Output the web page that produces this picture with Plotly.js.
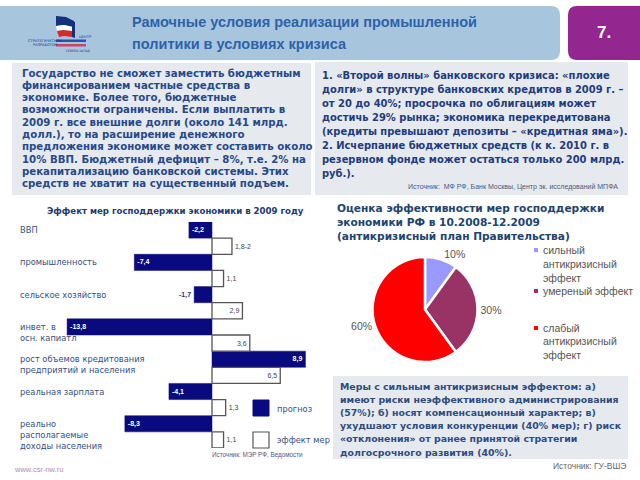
<!DOCTYPE html>
<html><head><meta charset="utf-8">
<script src="https://cdn.plot.ly/plotly-3.0.1.min.js"></script>
<style>html,body{margin:0;padding:0;background:#fff}#c{width:640px;height:480px}</style>
</head><body><div id="c"></div><script>
// ---------- data ----------
const categories = [["ВВП"],["промышленность"],["сельское хозяйство"],["инвет. в","осн. капиатл"],["рост объемов кредитования","предприятий и населения"],["реальная зарплата"],["реально","располагаемые","доходы населения"]];
const forecastValues = [-2.2,-7.4,-1.7,-13.8,8.9,-4.1,-8.3];
const forecastLabels = ["-2,2","-7,4","-1,7","-13,8","8,9","-4,1","-8,3"];
const effectValues = [1.9,1.1,2.9,3.6,6.5,1.3,1.1];
const effectLabels = ["1,8-2","1,1","2,9","3,6","6,5","1,3","1,1"];
const seriesNames = ["прогноз","эффект мер"];
const pieLabels = [["сильный","антикризисный","эффект"],["умереный эффект"],["слабый","антикризисный","эффект"]];
const pieValues = [10,30,60];

const titleLines = ["Рамочные условия реализации промышленной","политики в условиях кризиса"];
const leftText = ["Государство не сможет заместить бюджетным","финансированием частные средства в","экономике. Более того, бюджетные","возможности ограничены. Если выплатить в","2009 г. все внешние долги (около 141 млрд.","долл.), то на расширение денежного","предложения экономике может составить около","10% ВВП. Бюджетный дефицит – 8%, т.е. 2% на","рекапитализацию банковской системы. Этих","средств не хватит на существенный подъем."];
const rightText = ["1. «Второй волны» банковского кризиса: «плохие","долги» в структуре банковских кредитов в 2009 г. –","от 20 до 40%; просрочка по облигациям может","достичь 29% рынка; экономика перекредитована","(кредиты превышают депозиты – «кредитная яма»).","2. Исчерпание бюджетных средств (к к. 2010 г. в","резервном фонде может остаться только 200 млрд.","руб.)."];
const bottomText = ["Меры с сильным антикризисным эффектом: а)","имеют риски неэффективного администрирования","(57%); б) носят компенсационный характер; в)","ухудшают условия конкуренции (40% мер); г) риск","«отклонения» от ранее принятой стратегии","долгосрочного развития (40%)."];
const pieTitle = ["Оценка эффективности мер господдержки","экономики РФ в 10.2008-12.2009","(антикризисный план Правительства)"];

// ---------- styles ----------
const NAVY = "#0a0a80";
const pieColors = ["#9999ff","#993366","#ff0000"];
const W=640,H=480;
const px=x=>x/W, py=y=>1-y/H;
const shapes=[], ann=[];
function rect(x0,y0,x1,y1,fill,line,lw){shapes.push({type:'rect',xref:'paper',yref:'paper',x0:px(x0),x1:px(x1),y0:py(y1),y1:py(y0),fillcolor:fill,line:{color:line||fill,width:lw||0},layer:'below'});}
function rrect(x0,y0,x1,y1,r,fill){
  const P=(x,y)=>px(x).toFixed(5)+','+py(y).toFixed(5);
  const d='M'+P(x0+r,y0)+' L'+P(x1-r,y0)+' Q'+P(x1,y0)+' '+P(x1,y0+r)+' L'+P(x1,y1-r)+' Q'+P(x1,y1)+' '+P(x1-r,y1)+' L'+P(x0+r,y1)+' Q'+P(x0,y1)+' '+P(x0,y1-r)+' L'+P(x0,y0+r)+' Q'+P(x0,y0)+' '+P(x0+r,y0)+' Z';
  shapes.push({type:'path',xref:'paper',yref:'paper',path:d,fillcolor:fill,line:{width:0},layer:'below'});
}
function poly(pts,fill){
  const d='M'+pts.map(p=>px(p[0]).toFixed(5)+','+py(p[1]).toFixed(5)).join(' L')+' Z';
  shapes.push({type:'path',xref:'paper',yref:'paper',path:d,fillcolor:fill,line:{width:0},layer:'above'});
}
function txt(x,y,s,size,color,o){o=o||{};ann.push({xref:'paper',yref:'paper',x:px(x),y:py(y),text:s,showarrow:false,xanchor:o.xa||'left',yanchor:'middle',font:{family:o.fam||'DejaVu Sans',size:size,color:color,weight:o.bold?'bold':'normal'}});}

// header
rrect(-10,6,560,60,9,"#a8c5de");
rrect(568,6,660,60,9,"#93278f");
txt(130,22,titleLines[0],14.5,"#2c63a9",{fam:'Liberation Sans',bold:true});
txt(130,44,titleLines[1],14.5,"#2c63a9",{fam:'Liberation Sans',bold:true});
txt(604,33,"7.",17,"#ffffff",{fam:'Liberation Sans',bold:true,xa:'center'});
// logo
poly([[56,16],[66,17],[74,21],[73,27],[64,25],[56,26]],"#16307a");
poly([[56,26],[64,25],[73,27],[72,31],[63,30],[57,31]],"#ffffff");
poly([[57,31],[63,30],[72,31],[72,37],[64,36],[59,37]],"#d42a2a");
poly([[72,21],[75,22],[75,38],[72,37]],"#16307a");
txt(77,36.5,"ЦЕНТР",3.6,"#223377");
txt(26,41,"СТРАТЕГИЧЕСКИХ",3.6,"#223377");
rect(56,39.5,86,42,"#3050b0");
txt(31,45.5,"РАЗРАБОТОК",3.6,"#223377");
rect(56,44,86,46.5,"#cc4466");
txt(64,51,"СЕВЕРО-ЗАПАД",3,"#223377");

// grey boxes
rect(12,63,311,195,"#e6e9ed");
rect(315,62,628,195,"#e6e9ed");
rect(333,376,628,459,"#e6e9ed");
leftText.forEach((s,i)=>txt(20,73+i*12.3,s,10.2,"#27498a",{bold:true}));
rightText.forEach((s,i)=>txt(320,75+i*14.1,s,9.95,"#1e3c7e",{bold:true}));
txt(620,187,"Источник:  МФ РФ, Банк Москвы, Центр эк. исследований МПФА",7,"#4a5a80",{xa:'right',fam:'Liberation Sans'});
bottomText.forEach((s,i)=>txt(338,386+i*13.2,s,9.4,"#2e4d80",{bold:true}));
txt(628,466,"Источник: ГУ-ВШЭ",8.5,"#666666",{xa:'right',fam:'Liberation Sans'});
txt(12,469,"www.csr-nw.ru",7.5,"#b38ab8",{fam:'Liberation Sans'});

// bar chart title & category labels
txt(175,211,"Эффект мер господдержки экономики в 2009 году",8.6,"#1f3a6e",{bold:true,xa:'center'});
categories.forEach((lines,i)=>{
  ann.push({xref:'paper',yref:'y',x:px(18),y:2*i,yshift:7,text:lines.join('<br>'),align:'left',showarrow:false,xanchor:'left',yanchor:'top',font:{family:'DejaVu Sans',size:8.3,color:'#34507e'}});
});
// bar legend
rect(253,400,269,416,NAVY,NAVY,1);
rect(253,432,269,448,"#ffffff","#555555",1.2);
txt(275,409,seriesNames[0],8.3,"#34507e");
txt(275,440,seriesNames[1],8.3,"#34507e");
txt(210,455,"Источник: МЭР РФ, Ведомости",6.3,"#4a5a8a",{fam:'Liberation Sans'});

// pie title & legend
pieTitle.forEach((s,i)=>txt(335,208+i*14,s,10.6,"#1d456e",{bold:true}));
const legY=[[250,264,278],[291],[328,341,355]];
pieLabels.forEach((lines,i)=>{
  rect(534,legY[i][0]-2,538,legY[i][0]+2,pieColors[i]);
  lines.forEach((s,j)=>txt(541,legY[i][j],s,10.5,"#555555",{fam:'Liberation Sans'}));
});

const fy=forecastValues.map((_,i)=>2*i), ey=effectValues.map((_,i)=>2*i+1);
const data=[
 {type:'bar',orientation:'h',x:forecastValues,y:fy,width:1,name:seriesNames[0],marker:{color:NAVY,line:{color:NAVY,width:0.5}},
  text:forecastLabels,textposition:forecastValues.map(v=>Math.abs(v)<2?'outside':'inside'),insidetextanchor:'end',constraintext:'none',
  insidetextfont:{family:'Liberation Sans',size:7,color:'#ffffff',weight:'bold'},outsidetextfont:{family:'Liberation Sans',size:7,color:'#333355',weight:'bold'},cliponaxis:false,hoverinfo:'skip',showlegend:false},
 {type:'bar',orientation:'h',x:effectValues,y:ey,width:1,name:seriesNames[1],marker:{color:'#ffffff',line:{color:'#555555',width:1.3}},
  text:effectLabels,textposition:effectValues.map(v=>v<2.5?'outside':'inside'),insidetextanchor:'end',constraintext:'none',
  insidetextfont:{family:'Liberation Sans',size:7,color:'#444444'},outsidetextfont:{family:'Liberation Sans',size:7,color:'#444444'},cliponaxis:false,hoverinfo:'skip',showlegend:false},
 {type:'pie',values:pieValues,labels:pieLabels.map(l=>l.join(' ')),sort:false,direction:'clockwise',rotation:0,
  marker:{colors:pieColors,line:{color:'#ffffff',width:2.5}},textinfo:'percent',textposition:'outside',
  textfont:{family:'Liberation Sans',size:10.5,color:'#555555'},domain:{x:[px(372),px(478)],y:[py(362),py(257)]},showlegend:false,hoverinfo:'skip'}
];
const xl=40,xr=330,zero=212,scale=10.5;
const layout={width:W,height:H,margin:{l:0,r:0,t:0,b:0},paper_bgcolor:'#ffffff',plot_bgcolor:'rgba(0,0,0,0)',
 barmode:'overlay',showlegend:false,
 xaxis:{domain:[px(xl),px(xr)],range:[-(zero-xl)/scale,(xr-zero)/scale],visible:false,fixedrange:true},
 yaxis:{domain:[py(448),py(222)],range:[13.5,-0.5],visible:false,fixedrange:true},
 shapes:shapes,annotations:ann};
Plotly.newPlot('c',data,layout,{staticPlot:true});
</script></body></html>
